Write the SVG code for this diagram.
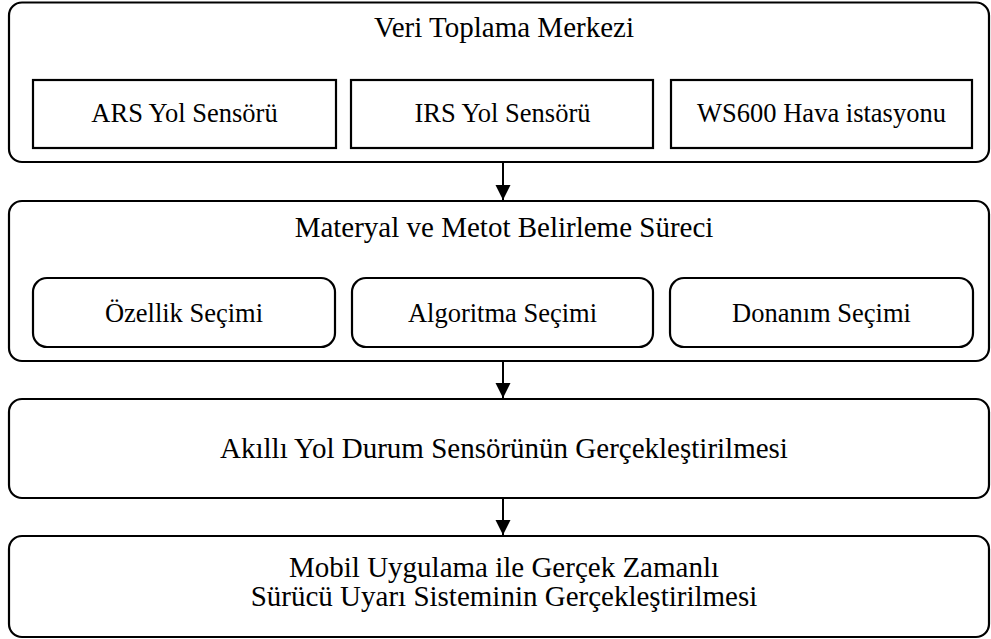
<svg xmlns="http://www.w3.org/2000/svg" width="991" height="639" viewBox="0 0 991 639">
<style>
.box{fill:#fff;stroke:#000;stroke-width:2.2}
.t{font-family:'Liberation Serif','Times New Roman',serif;font-size:29px;fill:#000;text-anchor:middle}
.s{font-size:26.5px}
.c{stroke:#000;stroke-width:2;fill:none}
</style>
<defs>
<marker id="ah" markerUnits="userSpaceOnUse" markerWidth="16" markerHeight="16" refX="15" refY="7.5" orient="auto">
<path d="M0,0 L15,7.5 L0,15 Z" fill="#000"/>
</marker>
</defs>
<rect width="991" height="639" fill="#fff"/>
<g id="n1">
<rect class="box" x="9" y="2.5" width="980" height="159.5" rx="13"/>
<text class="t" x="504" y="37">Veri Toplama Merkezi</text>
</g>
<g id="n1a">
<rect class="box" x="33" y="80" width="303" height="68"/>
<text class="t s" x="184.5" y="122">ARS Yol Sensörü</text>
</g>
<g id="n1b">
<rect class="box" x="351" y="80" width="302" height="68"/>
<text class="t s" x="502.5" y="122">IRS Yol Sensörü</text>
</g>
<g id="n1c">
<rect class="box" x="671" y="80" width="301" height="68"/>
<text class="t s" x="821.5" y="122">WS600 Hava istasyonu</text>
</g>
<g id="n2">
<rect class="box" x="9" y="201" width="980" height="160" rx="13"/>
<text class="t" x="504" y="237">Materyal ve Metot Belirleme Süreci</text>
</g>
<g id="n2a">
<rect class="box" x="33" y="278" width="302" height="69" rx="14"/>
<text class="t s" x="184" y="322">Özellik Seçimi</text>
</g>
<g id="n2b">
<rect class="box" x="352" y="278" width="301" height="69" rx="14"/>
<text class="t s" x="502.5" y="322">Algoritma Seçimi</text>
</g>
<g id="n2c">
<rect class="box" x="670" y="278" width="303" height="69" rx="14"/>
<text class="t s" x="821.5" y="322">Donanım Seçimi</text>
</g>
<g id="n3">
<rect class="box" x="9" y="399" width="980" height="99" rx="13"/>
<text class="t" x="504" y="458">Akıllı Yol Durum Sensörünün Gerçekleştirilmesi</text>
</g>
<g id="n4">
<rect class="box" x="9" y="536" width="980" height="101" rx="13"/>
<text class="t" x="504" y="577">Mobil Uygulama ile Gerçek Zamanlı</text>
<text class="t" x="504" y="606">Sürücü Uyarı Sisteminin Gerçekleştirilmesi</text>
</g>
<g id="connectors">
<line class="c" x1="503" y1="162" x2="503" y2="200" marker-end="url(#ah)"/>
<line class="c" x1="503" y1="361" x2="503" y2="398" marker-end="url(#ah)"/>
<line class="c" x1="503" y1="498" x2="503" y2="535" marker-end="url(#ah)"/>
</g>
</svg>
